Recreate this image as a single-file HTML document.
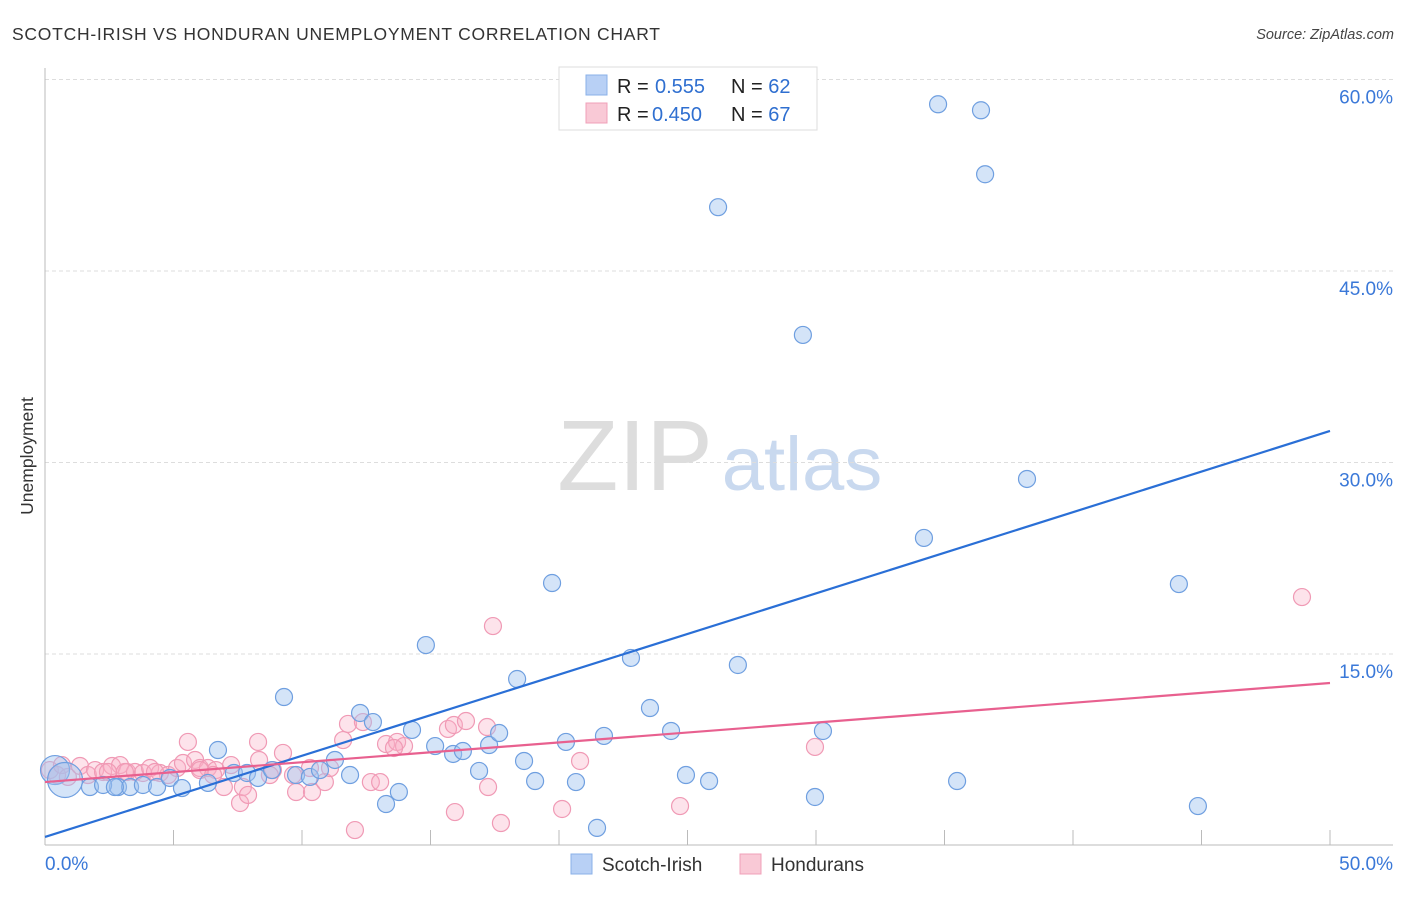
<!DOCTYPE html>
<html><head><meta charset="utf-8"><style>
body{margin:0;background:#fff;font-family:"Liberation Sans",sans-serif;}
svg text{font-family:"Liberation Sans",sans-serif;}
</style></head><body>
<svg id="chart" width="1406" height="892" xmlns="http://www.w3.org/2000/svg">
<text x="12" y="40" font-size="17.5" fill="#333" textLength="648" lengthAdjust="spacing">SCOTCH-IRISH VS HONDURAN UNEMPLOYMENT CORRELATION CHART</text>
<text x="1394" y="39" font-size="14.5" fill="#444" font-style="italic" text-anchor="end">Source: ZipAtlas.com</text>
<text transform="translate(33,456) rotate(-90)" font-size="17.5" fill="#333" text-anchor="middle">Unemployment</text>
<g>
<text x="635" y="490" font-size="100" fill="#ddd" font-family="Liberation Serif" text-anchor="middle">ZIP</text>
<text x="802" y="490" font-size="76" fill="#c9d9ef" text-anchor="middle">atlas</text>
</g>
<g id="grid"></g><g id="axes"></g><g id="pts"></g><g id="lines"></g>
<g>
<rect x="559" y="67" width="258" height="63" fill="#fff" stroke="#ddd"/>
<rect x="586" y="75" width="21" height="20" fill="#b8d0f5" stroke="#8ab0e8"/>
<rect x="586" y="103" width="21" height="20" fill="#f9c9d6" stroke="#f0a0b8"/>
<text x="617" y="93" font-size="20" fill="#222">R = <tspan x="655" fill="#2f6fd0">0.555</tspan></text>
<text x="731" y="93" font-size="20" fill="#222">N = <tspan fill="#2f6fd0">62</tspan></text>
<text x="617" y="121" font-size="20" fill="#222">R = <tspan x="652" fill="#2f6fd0">0.450</tspan></text>
<text x="731" y="121" font-size="20" fill="#222">N = <tspan fill="#2f6fd0">67</tspan></text>
</g>
<g>
<rect x="571" y="854" width="21" height="20" fill="#b8d0f5" stroke="#8ab0e8"/>
<text x="602" y="871" font-size="19" fill="#333">Scotch-Irish</text>
<rect x="740" y="854" width="21" height="20" fill="#f9c9d6" stroke="#f0a0b8"/>
<text x="771" y="871" font-size="19" fill="#333">Hondurans</text>
</g>
</svg>
<script>
const yTicks=[15,30,45,60];
const yTickLabels=["15.0%","30.0%","45.0%","60.0%"];
const xTickLabels=["0.0%","50.0%"];
const blueX=[0.39,0.78,1.75,2.84,3.31,3.81,4.36,4.86,5.33,6.34,6.73,7.35,7.86,8.29,8.83,9.30,9.77,10.31,10.70,11.28,11.87,12.26,12.76,13.27,13.77,14.28,14.82,15.18,15.88,16.26,16.89,17.28,17.67,18.37,18.64,19.07,19.73,20.27,20.66,21.48,21.75,22.80,23.54,24.36,24.94,25.84,26.19,26.96,29.49,29.96,30.27,34.20,34.75,35.49,36.42,36.58,38.21,44.12,44.86,2.26,2.72];
const blueY=[5.91,5.13,4.58,4.58,4.58,4.74,4.58,5.29,4.50,4.90,7.48,5.68,5.68,5.29,5.91,11.63,5.52,5.37,5.91,6.70,5.52,10.38,9.67,3.25,4.19,9.05,15.70,7.79,7.17,7.40,5.84,7.87,8.81,13.04,6.62,5.05,20.56,8.11,4.97,1.38,8.58,14.69,10.77,8.97,5.52,5.05,50.0,14.14,39.99,3.80,8.97,24.09,58.06,5.05,57.59,52.58,28.71,20.48,3.09,4.74,4.58];
const blueWeight=[2,3];
const pinkX=[0.19,0.47,0.66,0.89,1.36,1.67,1.95,2.26,2.61,2.92,3.19,3.50,3.81,4.09,4.47,4.79,5.14,5.37,5.56,5.84,6.03,6.34,6.65,6.96,7.24,7.59,7.70,7.90,8.29,8.33,8.87,9.26,9.65,9.77,10.39,10.89,11.60,11.79,12.06,12.37,12.68,13.04,13.27,13.70,13.97,15.68,15.95,15.91,16.38,17.24,17.43,17.20,17.74,20.12,20.82,24.71,29.96,48.91,2.45,3.11,4.28,6.03,6.54,8.75,10.31,11.09,13.58];
const pinkY=[5.91,5.52,6.30,5.37,6.23,5.52,5.91,5.76,6.23,6.30,5.76,5.76,5.68,6.07,5.68,5.52,6.07,6.46,8.11,6.70,6.07,6.07,5.91,4.58,6.30,3.33,4.58,3.96,8.11,6.70,5.91,7.25,5.52,4.19,4.19,4.97,8.26,9.52,1.21,9.67,4.97,4.97,7.95,8.11,7.79,9.13,2.62,9.44,9.75,4.58,17.19,9.28,1.76,2.86,6.62,3.09,7.72,19.46,5.76,5.76,5.76,5.91,5.52,5.52,6.07,6.07,7.64];
const blueLine=[0.67,32.47];
const pinkLine=[4.97,12.73];
const NS="http://www.w3.org/2000/svg";
const X0=45,X1=1330,Y0=845.5,YS=191.5/15;
function sx(v){return X0+(X1-X0)*v/50;}
function sy(v){return Y0-v*YS;}
function mk(tag,attrs,parent){const e=document.createElementNS(NS,tag);for(const k in attrs)e.setAttribute(k,attrs[k]);document.getElementById(parent).appendChild(e);return e;}
yTicks.forEach((t,i)=>{
 const g=mk('line',{x1:X0,x2:1393,y1:sy(t),y2:sy(t),stroke:'#ddd','stroke-dasharray':'4,3'},'grid');
 
 
 const l=mk('text',{x:1393,y:sy(t)+24,'font-size':19,fill:'#3a78d8','text-anchor':'end'},'grid');
 l.textContent=yTickLabels[i];
 
 
});
const ax=mk('line',{x1:X0,x2:X0,y1:68,y2:845,stroke:'#bbb'},'axes');


const bx=mk('line',{x1:X0,x2:1393,y1:845,y2:845,stroke:'#bbb'},'axes');


for(let k=1;k<=10;k++){
 const t=mk('line',{x1:sx(k*5),x2:sx(k*5),y1:830,y2:845,stroke:'#bbb'},'axes');
 
 
}
const xl0=mk('text',{x:45,y:870,'font-size':19,fill:'#3a78d8'},'axes');xl0.textContent=xTickLabels[0];


const xl1=mk('text',{x:1393,y:870,'font-size':19,fill:'#3a78d8','text-anchor':'end'},'axes');xl1.textContent=xTickLabels[1];


pinkX.forEach((x,i)=>{
 const c=mk('circle',{cx:sx(x),cy:sy(pinkY[i]),r:8.5,fill:'rgba(248,175,198,0.35)',stroke:'#f09ab5','stroke-width':1.2},'pts');
 
 
});
blueX.forEach((x,i)=>{
 const r=i<blueWeight.length?8.5+6*blueWeight[i]/2:8.5;
 const c=mk('circle',{cx:sx(x),cy:sy(blueY[i]),r:r,fill:'rgba(160,195,240,0.45)',stroke:'#6f9fe0','stroke-width':1.2},'pts');
 
 
});
const bl=mk('line',{x1:sx(0),y1:sy(blueLine[0]),x2:sx(50),y2:sy(blueLine[1]),stroke:'#2a6fd6','stroke-width':2.2},'lines');


const pl=mk('line',{x1:sx(0),y1:sy(pinkLine[0]),x2:sx(50),y2:sy(pinkLine[1]),stroke:'#e8608f','stroke-width':2.2},'lines');


</script>
</body></html>
